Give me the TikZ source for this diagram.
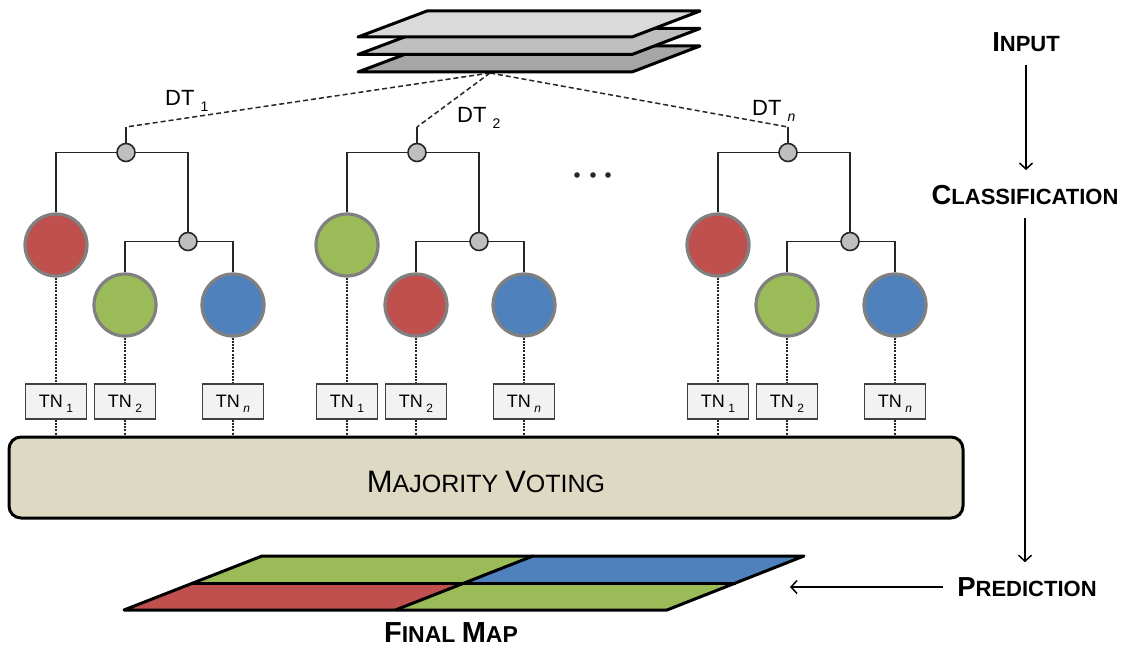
\documentclass[tikz,border=0pt]{standalone}
\usepackage{fontspec}
\setmainfont{Liberation Sans}
\usetikzlibrary{arrows.meta}

\definecolor{cRed}{HTML}{C0504D}
\definecolor{cGreen}{HTML}{9BBB59}
\definecolor{cBlue}{HTML}{4F81BD}
\definecolor{beige}{HTML}{DDD9C3}
\definecolor{ink}{HTML}{262626}
\definecolor{rimgray}{HTML}{808080}
\definecolor{knot}{HTML}{BFBFBF}
\definecolor{boxline}{HTML}{404040}
\definecolor{boxfill}{HTML}{F2F2F2}
\definecolor{sheetA}{HTML}{DADADA}
\definecolor{sheetB}{HTML}{BFBFBF}
\definecolor{sheetC}{HTML}{A6A6A6}

\newcommand\fs[1]{\fontsize{#1}{#1}\selectfont}
% fake small caps: capital at size #1, remaining letters at size #2
\newcommand\scw[4]{{\fs{#1}#3\fs{#2}#4}}
\newcommand\tnsub[1]{\hspace{3.5pt}\smash{\raisebox{-5pt}{\fs{12}#1}}}
\newcommand\dtsub[1]{\hspace{6pt}\raisebox{-6.5pt}{\fs{14}#1}}

\begin{document}
\begin{tikzpicture}[x=1pt,y=-1pt,
  leaf/.style={circle, minimum size=62pt, inner sep=0pt, draw=rimgray, line width=3.2pt},
  split/.style={circle, minimum size=18pt, inner sep=0pt, draw=ink, fill=knot, line width=1.6pt},
  tnbox/.style={draw=boxline, fill=boxfill, line width=1.4pt, minimum width=61pt,
                minimum height=35pt, inner sep=0pt, font=\fs{18}},
  branch/.style={ink, line width=1.8pt},
  feed/.style={ink, line width=1.5pt, dash pattern=on 5pt off 3pt},
  drop/.style={ink, line width=1.2pt, dash pattern=on 2pt off 1.2pt},
  flow/.style={-{Straight Barb[length=6pt,width=13pt,line width=1.5pt]}, line width=1.5pt},
  stage/.style={inner sep=0pt, font=\bfseries\fs{22}},
  sheet/.style={draw=black, line width=3pt, line join=round},
  dtlabel/.style={inner sep=0pt, anchor=base west, font=\fs{22}},
  votebox/.style={draw=black, fill=beige, line width=3pt, rounded corners=12pt,
                  minimum width=954pt, minimum height=81pt, inner sep=0pt}
]
\useasboundingbox (0,0) rectangle (1131,655);

% ---- voting stage
\node[votebox, label={[yshift=-4.5pt, font=\fs{25}]center:{\scw{31}{25}{M}{AJORITY} \scw{31}{25}{V}{OTING}}}]
  (vote) at (486,477.5) {};

% ---- input stack (apex of the tree feeds)
\coordinate (stack) at (490,73);

% ---- decision trees
\foreach \i/\R/\cl/\cm in {1/126/cRed/cGreen, 2/417/cGreen/cRed, 3/788/cRed/cGreen}{
  \coordinate (top\i) at (\R,127);
  \draw[feed] (stack) -- (top\i);
  \node[split] (root\i) at (\R,152.5) {};
  \node[split] (sub\i) at (\R+62,241.5) {};
  \node[leaf, fill=\cl] (la\i) at (\R-70,245) {};
  \node[leaf, fill=\cm] (lb\i) at (\R-1,305) {};
  \node[leaf, fill=cBlue] (lc\i) at (\R+107,305) {};
  \node[tnbox] (ta\i) at (\R-70,401.5) {TN\tnsub{1}};
  \node[tnbox] (tb\i) at (\R-1,401.5) {TN\tnsub{2}};
  \node[tnbox] (tc\i) at (\R+107,401.5) {TN\tnsub{\textit{n}}};
  \draw[branch] (top\i) -- (root\i);
  \draw[branch] (root\i) -| (la\i);
  \draw[branch] (root\i) -| (sub\i);
  \draw[branch] (sub\i) -| (lb\i);
  \draw[branch] (sub\i) -| (lc\i);
  \foreach \k in {a,b,c}{
    \draw[drop] (l\k\i) -- (t\k\i);
    \draw[drop] (t\k\i) -- (t\k\i |- vote.north);
  }
}

% ---- tree labels
\node[dtlabel] (dt1) at (165,105.5) {DT\dtsub{1}};
\node[dtlabel] (dt2) at (457,122.5) {DT\dtsub{2}};
\node[dtlabel] (dtn) at (752,115.5) {DT\dtsub{\textit{n}}};

% ---- ellipsis between trees
\foreach \x in {577,593,608} \fill[ink] (\x,175) circle (2.8pt);

% ---- stacked input layers
\foreach \k/\c in {2/sheetC, 1/sheetB, 0/sheetA}{
  \draw[sheet, fill=\c] (427,11+17.5*\k) -- (700,11+17.5*\k) -- (632,37+17.5*\k)
    -- (358,37+17.5*\k) -- cycle;
}

% ---- final map
\coordinate (BL) at (124,610);
\coordinate (BR) at (667,610);
\coordinate (TR) at (804,556);
\coordinate (TL) at (262,556);
\coordinate (ML) at (193,583);
\coordinate (MR) at (735.5,583);
\coordinate (BM) at (395.5,610);
\coordinate (TM) at (533,556);
\coordinate (CC) at (464,583);
\fill[cGreen] (ML) -- (CC) -- (TM) -- (TL) -- cycle;
\fill[cBlue]  (CC) -- (MR) -- (TR) -- (TM) -- cycle;
\fill[cRed]   (BL) -- (BM) -- (CC) -- (ML) -- cycle;
\fill[cGreen] (BM) -- (BR) -- (MR) -- (CC) -- cycle;
\draw[sheet] (BL) -- (BR) -- (TR) -- (TL) -- cycle;
\draw[sheet] (ML) -- (MR);
\draw[sheet] (BM) -- (TM);
\node[stage, font=\bfseries\fs{23}] (finalmap) at (451,633) {\scw{29}{23}{F}{INAL} \scw{29}{23}{M}{AP}};

% ---- process stages
\node[stage] (input) at (1026,42) {\scw{27.5}{22}{I}{NPUT}};
\node[stage] (classif) at (1025,195) {\scw{27.5}{22}{C}{LASSIFICATION}};
\node[stage] (predict) at (1027,587) {\scw{27.5}{22}{P}{REDICTION}};
\coordinate (maptip) at (790,587);

\draw[flow] ([yshift=-13pt]input.south) -- ([yshift=15pt]input.south |- classif.north);
\draw[flow] ([yshift=-13pt]classif.south) -- ([yshift=15pt]classif.south |- predict.north);
\draw[flow] ([xshift=-14pt]predict.west) -- (maptip);
\end{tikzpicture}
\end{document}
